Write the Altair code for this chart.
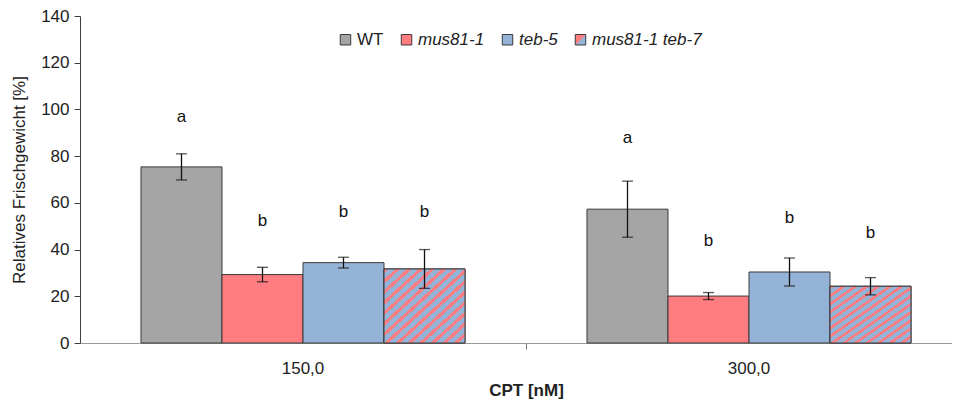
import altair as alt
import pandas as pd

# ---- data ----
concentrations = ["150,0", "300,0"]
genotypes = ["WT", "mus81-1", "teb-5", "mus81-1 teb-7"]
means_150 = [75.4, 29.3, 34.4, 31.7]
errors_150 = [5.6, 3.1, 2.3, 8.3]
means_300 = [57.3, 20.1, 30.4, 24.3]
errors_300 = [12.0, 1.5, 6.0, 3.7]
letters_150 = ["a", "b", "b", "b"]
letters_300 = ["a", "b", "b", "b"]
letter_pos_150 = [96.6, 52.1, 56.0, 56.0]
letter_pos_300 = [87.6, 43.5, 53.4, 47.0]

GREY = "#a5a5a5"
RED = "#ff7c80"
BLUE = "#95b3d7"
EDGE = "#3a3a3a"

rows = []
for conc, means, errs, lets, lpos in [
    (concentrations[0], means_150, errors_150, letters_150, letter_pos_150),
    (concentrations[1], means_300, errors_300, letters_300, letter_pos_300),
]:
    for g, m, e, l, lp in zip(genotypes, means, errs, lets, lpos):
        rows.append({"cpt": conc, "genotype": g, "mean": m,
                     "lo": m - e, "hi": m + e, "letter": l, "lpos": lp})
df = pd.DataFrame(rows)

# striped fill (red / blue diagonal stripes) for the double mutant bars
n_periods = 14
red_frac = 0.4
stops = []
for i in range(n_periods):
    a = i / n_periods
    b = (i + red_frac) / n_periods
    c = (i + 1) / n_periods
    stops += [{"offset": a, "color": RED}, {"offset": b, "color": RED},
              {"offset": b, "color": BLUE}, {"offset": c, "color": BLUE}]
stripe_gradient = {"gradient": "linear", "x1": 0, "y1": 0, "x2": 1, "y2": 1,
                   "stops": stops}

# legend symbol for the double mutant: diagonal split red / blue
split_expr = ("{gradient: 'linear', x1: 0, y1: 0, x2: 1, y2: 1, stops: ["
              "{offset: 0, color: '" + RED + "'}, {offset: 0.5, color: '" + RED + "'}, "
              "{offset: 0.5, color: '" + BLUE + "'}, {offset: 1, color: '" + BLUE + "'}]}")

x_enc = alt.X("cpt:N", sort=concentrations,
              scale=alt.Scale(paddingInner=0, paddingOuter=0, range=[0, 892]),
              axis=alt.Axis(title="CPT [nM]", labelAngle=0, bandPosition=1,
                            tickExtra=False, titleFontWeight="bold",
                            labelPadding=11, titlePadding=6,
                            domainColor="#9a9a9a", tickColor="#707070"))
xoff_enc = alt.XOffset("genotype:N", sort=genotypes,
                       scale=alt.Scale(domain=genotypes, paddingInner=0,
                                       paddingOuter=0.753))
y_scale = alt.Scale(domain=[0, 140], nice=False)

bars = alt.Chart(df).mark_bar(stroke=EDGE, strokeWidth=1).encode(
    x=x_enc,
    xOffset=xoff_enc,
    y=alt.Y("mean:Q", scale=y_scale,
            axis=alt.Axis(title="Relatives Frischgewicht [%]",
                          values=list(range(0, 141, 20)), grid=False,
                          titleFontWeight="normal", titlePadding=12,
                          labelPadding=5, domainColor="#404040",
                          tickColor="#404040")),
    fill=alt.Fill("genotype:N", sort=genotypes,
                  scale=alt.Scale(domain=genotypes,
                                  range=[GREY, RED, BLUE, alt.ExprRef(expr=split_expr)]),
                  legend=alt.Legend(title=None, orient="none", legendX=257, legendY=15,
                                    direction="horizontal", columns=4,
                                    symbolType="square", symbolSize=110,
                                    symbolStrokeColor=EDGE, symbolStrokeWidth=1,
                                    labelFontSize=17, columnPadding=14,
                                    labelOffset=3,
                                    labelFontStyle=alt.ExprRef(
                                        expr="datum.label == 'WT' ? 'normal' : 'italic'"))),
)

stripes = alt.Chart(df).transform_filter(
    alt.datum.genotype == "mus81-1 teb-7"
).mark_bar(fill=stripe_gradient, stroke=EDGE, strokeWidth=1).encode(
    x=x_enc, xOffset=xoff_enc, y=alt.Y("mean:Q", scale=y_scale),
)

err_rule = alt.Chart(df).mark_rule(color="#111", strokeWidth=1.3).encode(
    x=x_enc, xOffset=xoff_enc,
    y=alt.Y("lo:Q", scale=y_scale), y2="hi:Q",
)
cap_lo = alt.Chart(df).mark_tick(color="#111", thickness=1.3, size=11).encode(
    x=x_enc, xOffset=xoff_enc, y=alt.Y("lo:Q", scale=y_scale),
)
cap_hi = alt.Chart(df).mark_tick(color="#111", thickness=1.3, size=11).encode(
    x=x_enc, xOffset=xoff_enc, y=alt.Y("hi:Q", scale=y_scale),
)
letters = alt.Chart(df).mark_text(fontSize=17, color="#111", baseline="middle",
                                  font="Liberation Sans").encode(
    x=x_enc, xOffset=xoff_enc, y=alt.Y("lpos:Q", scale=y_scale), text="letter:N",
)

chart = alt.layer(bars, stripes, err_rule, cap_lo, cap_hi, letters).properties(
    width=872, height=327,
    autosize=alt.AutoSizeParams(type="none"),
    padding={"left": 72, "top": 8, "right": 0, "bottom": 58},
).configure(
    font="Liberation Sans",
).configure_view(
    stroke=None,
).configure_axis(
    labelFontSize=17, titleFontSize=17, labelColor="#222", titleColor="#222",
    tickSize=6, domainWidth=1,
).configure_legend(
    labelColor="#222",
)

chart.save("out.html", embed_options={"renderer": "svg", "actions": False})
